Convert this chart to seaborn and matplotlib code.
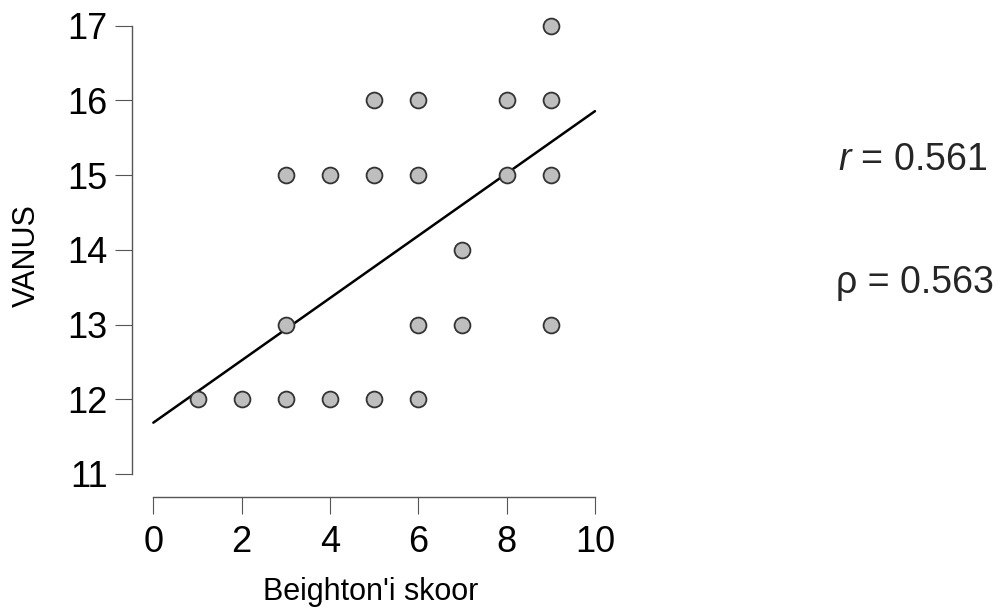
import matplotlib
matplotlib.use("Agg")
import matplotlib.pyplot as plt
import seaborn as sns
import numpy as np
import pandas as pd

# Data
beighton = [1, 2, 3, 4, 5, 6, 3, 6, 7, 9, 7, 3, 4, 5, 6, 8, 9, 5, 6, 8, 9, 9]
vanus = [12, 12, 12, 12, 12, 12, 13, 13, 13, 13, 14, 15, 15, 15, 15, 15, 15, 16, 16, 16, 16, 17]
fit_intercept = 11.686
fit_slope = 0.417
fit_range = [0, 10]
x_ticks = [0, 2, 4, 6, 8, 10]
y_ticks = [11, 12, 13, 14, 15, 16, 17]
pearson_r = "0.561"
spearman_rho = "0.563"

sns.set_theme(style="white")
plt.rcParams['font.family'] = ['Liberation Sans', 'DejaVu Sans']
plt.rcParams['mathtext.fontset'] = 'custom'
plt.rcParams['mathtext.rm'] = 'Liberation Sans'
plt.rcParams['mathtext.it'] = 'Liberation Sans:italic'

df = pd.DataFrame({"x": beighton, "y": vanus})
line_x = np.array(fit_range, dtype=float)
line_df = pd.DataFrame({"x": line_x, "y": fit_intercept + fit_slope * line_x})

fig = plt.figure(figsize=(10.08, 6.12), dpi=100)
W, H = 1008, 612
left_px, right_px, bottom_px, top_px = 131.7, 610, 496.7, 15
ax = fig.add_axes([left_px / W, 1 - bottom_px / H, (right_px - left_px) / W, (bottom_px - top_px) / H])

sns.lineplot(data=line_df, x="x", y="y", ax=ax, color="black", linewidth=1.8, zorder=2)
sns.scatterplot(data=df, x="x", y="y", ax=ax, s=130, color="#bebebe",
                edgecolor="#333333", linewidth=1.3, zorder=3)

ax.set_xlim(-0.49, 10.34)
ax.set_ylim(10.695, 17.143)
for s in ["top", "right"]:
    ax.spines[s].set_visible(False)
ax.spines["left"].set_bounds(11, 17)
ax.spines["bottom"].set_bounds(0, 10)
for s in ["left", "bottom"]:
    ax.spines[s].set_color("#555555")
    ax.spines[s].set_linewidth(1.0)

ax.set_xticks(x_ticks)
ax.set_yticks(y_ticks)
ax.tick_params(axis="both", which="major", direction="out", length=12.5, width=0.8,
               color="#555555", labelsize=26, labelcolor="black",
               left=True, bottom=True)
ax.tick_params(axis="x", pad=8)
ax.tick_params(axis="y", pad=5)

ax.set_xlabel("Beighton'i skoor", fontsize=22, labelpad=12, color="black")
ax.set_ylabel("VANUS", fontsize=22, labelpad=18, color="black")

fig.text(838 / W, 1 - 160 / H, r"$\mathit{r}$ = " + pearson_r, fontsize=27,
         va="center", ha="left")
fig.text(836 / W, 1 - 283 / H, "ρ = " + spearman_rho, fontsize=27, va="center", ha="left")

fig.savefig("out.png", dpi=100)
